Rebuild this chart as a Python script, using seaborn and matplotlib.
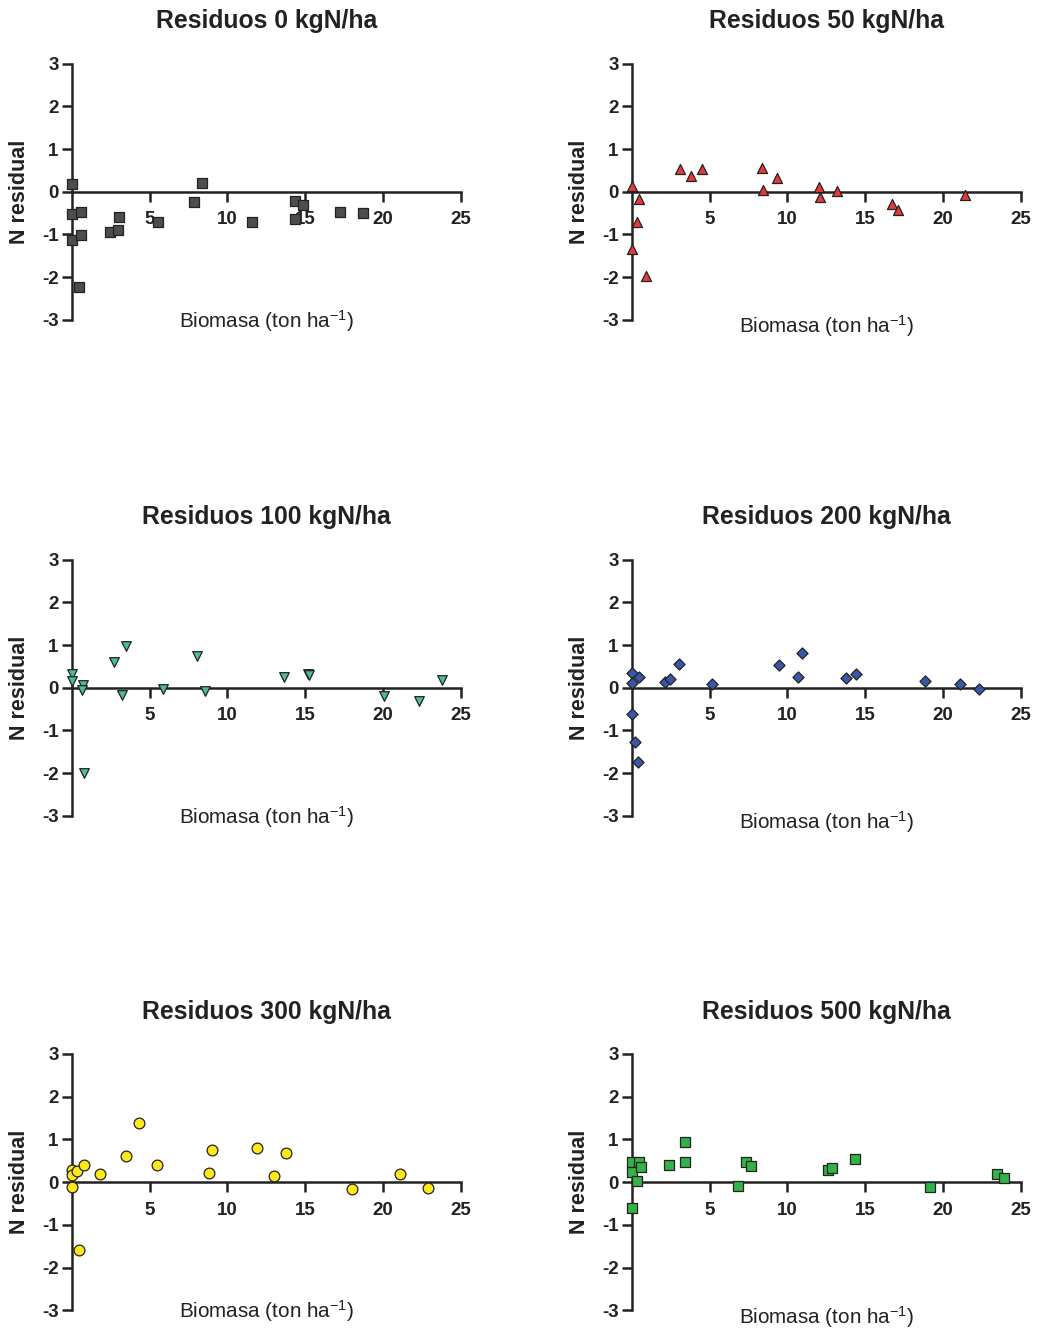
import numpy as np
import pandas as pd
import matplotlib
matplotlib.use("Agg")
import matplotlib.pyplot as plt
import seaborn as sns

sns.set_theme(style="white")
plt.rcParams['font.family'] = ['Liberation Sans', 'DejaVu Sans']
plt.rcParams['mathtext.default'] = 'regular'
plt.rcParams['axes.unicode_minus'] = False

titles = ["Residuos 0 kgN/ha", "Residuos 50 kgN/ha", "Residuos 100 kgN/ha",
          "Residuos 200 kgN/ha", "Residuos 300 kgN/ha", "Residuos 500 kgN/ha"]

x0 = [0.04, 0.0, 0.58, 0.0, 0.62, 0.45, 2.45, 2.98, 3.03, 5.56, 7.85, 8.35, 11.59,
      14.36, 14.89, 14.33, 17.25, 18.71]
y0 = [0.17, -0.52, -0.48, -1.12, -1.02, -2.23, -0.95, -0.89, -0.59, -0.71, -0.24, 0.20,
      -0.72, -0.22, -0.31, -0.64, -0.48, -0.50]

x50 = [0.0, 0.47, 0.36, 0.02, 0.90, 3.13, 3.78, 4.55, 8.39, 8.45, 9.36, 12.06, 12.12,
       13.18, 16.74, 17.12, 21.42]
y50 = [0.13, -0.18, -0.72, -1.34, -1.98, 0.52, 0.37, 0.52, 0.55, 0.05, 0.33, 0.11, -0.13,
       0.02, -0.28, -0.44, -0.07]

x100 = [0.04, 0.0, 0.71, 0.67, 0.77, 2.75, 3.24, 3.52, 5.84, 8.03, 8.58, 13.63, 15.19,
        15.26, 20.09, 22.34, 23.82]
y100 = [0.33, 0.16, 0.07, -0.05, -1.99, 0.60, -0.18, 0.98, -0.04, 0.75, -0.08, 0.24, 0.33,
        0.29, -0.19, -0.30, 0.18]

x200 = [0.02, 0.02, 0.47, 0.02, 0.19, 0.39, 2.17, 2.47, 3.05, 5.15, 9.48, 10.67, 10.92,
        13.80, 14.44, 18.82, 21.09, 22.34]
y200 = [0.35, 0.12, 0.24, -0.62, -1.26, -1.74, 0.14, 0.20, 0.55, 0.08, 0.53, 0.26, 0.81,
        0.22, 0.33, 0.16, 0.08, -0.04]

x300 = [0.0, 0.0, 0.0, 0.36, 0.77, 0.47, 1.82, 3.52, 4.31, 5.47, 8.80, 8.99, 11.91,
        13.03, 13.76, 18.03, 21.09, 22.92]
y300 = [0.28, 0.16, -0.12, 0.25, 0.39, -1.60, 0.18, 0.62, 1.39, 0.40, 0.22, 0.76, 0.80,
        0.15, 0.69, -0.17, 0.20, -0.13]

x500 = [0.0, 0.02, 0.02, 0.34, 0.49, 0.58, 2.42, 3.45, 3.45, 6.80, 7.36, 7.66, 12.64,
        12.85, 14.38, 19.20, 23.50, 23.93]
y500 = [0.47, 0.24, -0.61, 0.02, 0.47, 0.36, 0.41, 0.95, 0.48, -0.08, 0.47, 0.37, 0.29,
        0.34, 0.54, -0.12, 0.19, 0.10]

xs = [x0, x50, x100, x200, x300, x500]
ys = [y0, y50, y100, y200, y300, y500]
markers = ["s", "^", "v", "D", "o", "s"]
sizes = [52, 52, 48, 32, 60, 52]
colors = ["#4d4d4d", "#e8393a", "#4dbf8f", "#3857a8", "#ffe81a", "#33b24a"]

fig = plt.figure(figsize=(10.37, 13.33), dpi=100)
W, H = 1037, 1333
lefts = [71.7, 631.7]
tops = [63.6, 559.6, 1054.0]
aw, ah = 389.0, 256.2

for i in range(6):
    r, c = divmod(i, 2)
    ax = fig.add_axes([lefts[c] / W, 1 - (tops[r] + ah) / H, aw / W, ah / H])
    df = pd.DataFrame({"Biomasa": xs[i], "N residual": ys[i]})
    sns.scatterplot(data=df, x="Biomasa", y="N residual", ax=ax, marker=markers[i],
                    s=sizes[i], color=colors[i], edgecolor="#222222", linewidth=0.9,
                    clip_on=False, zorder=3)
    ax.set_xlim(0, 25)
    ax.set_ylim(-3, 3)
    ax.spines['left'].set_position(('data', 0))
    ax.spines['bottom'].set_position(('data', 0))
    ax.spines['top'].set_visible(False)
    ax.spines['right'].set_visible(False)
    for s in ('left', 'bottom'):
        ax.spines[s].set_linewidth(1.8)
        ax.spines[s].set_color("#222222")
        ax.spines[s].set_zorder(2)
    ax.set_xticks([5, 10, 15, 20, 25])
    ax.set_yticks([-3, -2, -1, 0, 1, 2, 3])
    ax.tick_params(axis='both', direction='out', length=7, width=1.8, color="#222222",
                   labelsize=13.5, labelcolor="#222222")
    ax.tick_params(axis='x', pad=7, bottom=True)
    ax.tick_params(axis='y', pad=2.5, left=True)
    for lab in ax.get_xticklabels() + ax.get_yticklabels():
        lab.set_fontweight('bold')
    ax.set_xlabel("")
    ax.set_ylabel("N residual", fontsize=15.5, fontweight='bold', color="#222222")
    ax.yaxis.set_label_coords(-0.108, 0.5)
    ax.text(0.5, 1.165, titles[i], transform=ax.transAxes, ha='center', va='center',
            fontsize=17.8, fontweight='bold', color="#222222")
    ax.text(0.5, -0.005 - 0.02 * (c == 1), "Biomasa (ton ha$^{-1}$)", transform=ax.transAxes,
            ha='center', va='center', fontsize=14.9, color="#222222")
    ax.set_facecolor("none")

fig.savefig("out.png", dpi=100, facecolor="white")
